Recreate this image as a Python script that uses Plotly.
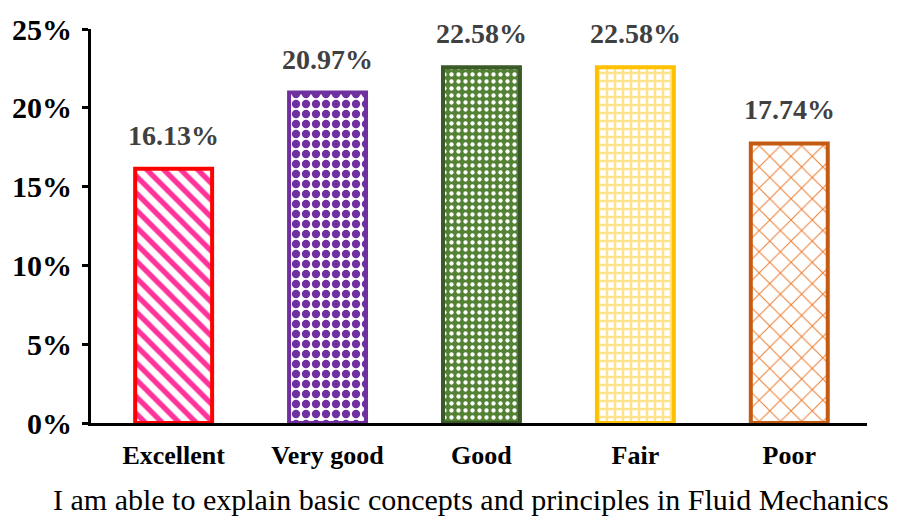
import plotly.graph_objects as go

# Survey responses: share of students per rating
categories = ["Excellent", "Very good", "Good", "Fair", "Poor"]
shares = [16.13, 20.97, 22.58, 22.58, 17.74]

# Per-bar styling
border_colors = ["#FF0000", "#7030A0", "#3A5A27", "#FFC000", "#C55A11"]
fill_colors = ["#FFFFFF", "#FFFFFF", "#548235", "#FFFFFF", "#FFFFFF"]
pattern_shapes = ["\\", ".", ".", "+", "x"]
pattern_fg = ["#FF3399", "#7030A0", "#FFFFFF", "#FFE38C", "#ED7D31"]
pattern_size = [12, 10, 7, 8, 15]
pattern_solidity = [0.45, 0.55, 0.3, 0.5, 0.13]

y_ticks = [0, 5, 10, 15, 20, 25]
y_tick_text = [f"{t}%" for t in y_ticks]
value_text = [f"{v:.2f}%" for v in shares]
x_title = "I am able to explain basic concepts and principles in Fluid Mechanics"

FONT = "Liberation Serif"

fig = go.Figure()

# One trace per rating so each bar keeps its own fill pattern
for i, cat in enumerate(categories):
    fig.add_trace(
        go.Bar(
            x=[i],
            y=[shares[i]],
            name=cat,
            width=0.5,
            marker=dict(
                color=fill_colors[i],
                line=dict(color=border_colors[i], width=4),
                pattern=dict(
                    shape=pattern_shapes[i],
                    fgcolor=pattern_fg[i],
                    fgopacity=1,
                    size=pattern_size[i],
                    solidity=pattern_solidity[i],
                    fillmode="overlay",
                ),
            ),
            hoverinfo="skip",
        )
    )

# Percentage labels above each bar
for i, (v, t) in enumerate(zip(shares, value_text)):
    fig.add_annotation(
        x=i,
        y=v,
        text=f"<b>{t}</b>",
        showarrow=False,
        yanchor="bottom",
        yshift=16,
        font=dict(family=FONT, size=28, color="#404040"),
    )

# Axis caption under the category labels
fig.add_annotation(
    xref="paper",
    yref="paper",
    x=0.49,
    y=0,
    yshift=-58,
    xanchor="center",
    yanchor="top",
    text=x_title,
    showarrow=False,
    font=dict(family=FONT, size=30, color="black"),
)

fig.update_layout(
    width=901,
    height=521,
    margin=dict(l=88, r=34, t=21, b=98),
    barmode="overlay",
    plot_bgcolor="white",
    paper_bgcolor="white",
    showlegend=False,
    font=dict(family=FONT, color="black"),
    xaxis=dict(
        range=[-0.537, 4.505],
        tickvals=list(range(len(categories))),
        ticktext=[f"<b>{c}</b>" for c in categories],
        showline=True,
        linecolor="black",
        linewidth=3,
        ticks="",
        ticklabelstandoff=7,
        tickfont=dict(family=FONT, size=26, color="black"),
        showgrid=False,
        zeroline=False,
    ),
    yaxis=dict(
        range=[0, 25],
        tickvals=y_ticks,
        ticktext=[f"<b>{t}</b>" for t in y_tick_text],
        tickfont=dict(family=FONT, size=30, color="black"),
        ticklabelstandoff=4,
        showline=True,
        linecolor="black",
        linewidth=3,
        ticks="outside",
        ticklen=6,
        tickwidth=3,
        tickcolor="black",
        showgrid=False,
        zeroline=False,
    ),
)

fig.write_html("out.html")
